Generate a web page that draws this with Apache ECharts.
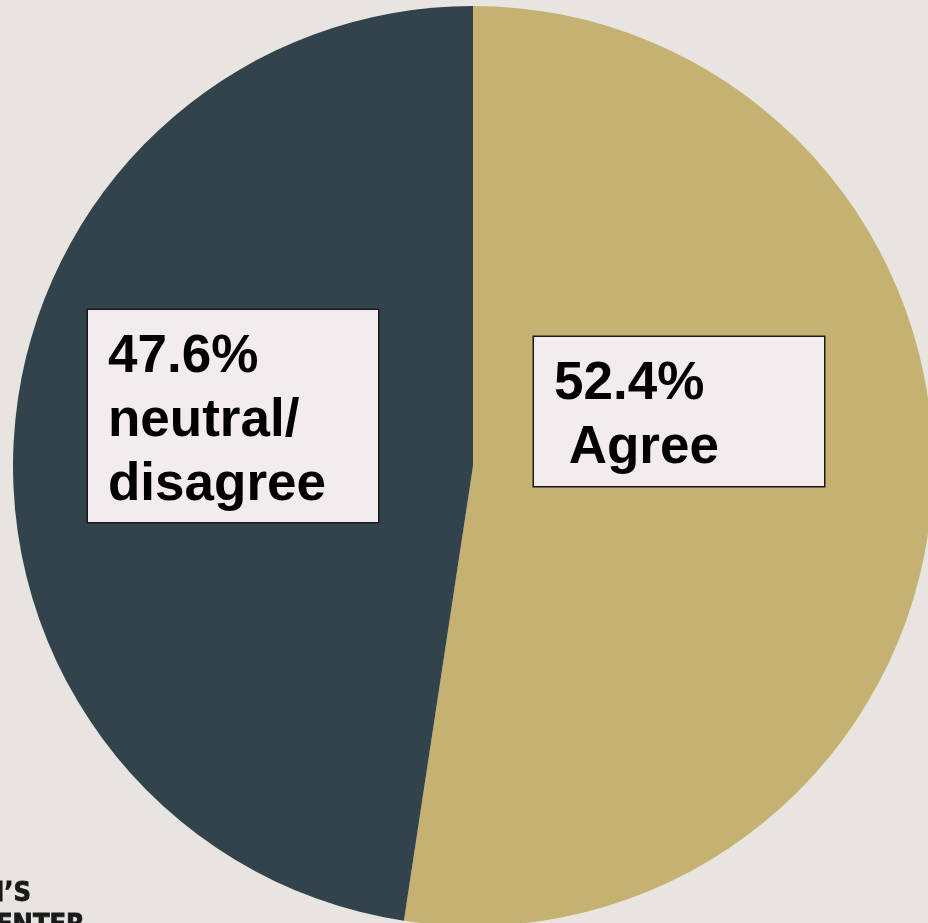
<!DOCTYPE html>
<html>
<head>
<meta charset="utf-8">
<style>
  html, body { margin: 0; padding: 0; background: #E8E5E0; }
  #chart { width: 928px; height: 923px; }
</style>
<script src="https://cdn.jsdelivr.net/npm/echarts@6/dist/echarts.min.js"></script>
</head>
<body>
<div id="chart"></div>
<script>
const categories = ['Agree', 'neutral/\ndisagree'];
const values = [52.4, 47.6];
const colors = ['#C5B273', '#33434C'];
const labelTemplates = ['{v}%\n {c}', '{v}%\n{c}'];

const chart = echarts.init(document.getElementById('chart'));

const labelBoxes = [
  { x: 534, y: 337, pb: 6 },
  { x: 88, y: 310, pb: 5 }
];

chart.setOption({
  backgroundColor: '#E8E5E0',
  animation: false,
  series: [{
    type: 'pie',
    center: [473, 466],
    radius: [0, 460],
    startAngle: 90,
    clockwise: true,
    silent: true,
    itemStyle: { borderWidth: 0 },
    data: categories.map((c, i) => ({
      name: c,
      value: values[i],
      itemStyle: { color: colors[i] },
      label: { padding: [15, 20, labelBoxes[i].pb, 20] }
    })),
    label: {
      show: true,
      position: 'inside',
      formatter: p => labelTemplates[p.dataIndex]
        .replace('{v}', values[p.dataIndex].toFixed(1))
        .replace('{c}', categories[p.dataIndex]),
      fontFamily: 'Liberation Sans, Arial, sans-serif',
      fontWeight: 'bold',
      fontSize: 53,
      lineHeight: 64,
      color: '#000000',
      backgroundColor: '#F3ECEF',
      borderColor: '#1a1a1a',
      borderWidth: 1.5,
      width: 250,
      align: 'left'
    },
    labelLine: { show: false },
    labelLayout: function (params) {
      const b = labelBoxes[params.dataIndex];
      return { x: b.x, y: b.y, align: 'left', verticalAlign: 'top' };
    }
  }],
  graphic: [
    {
      type: 'text',
      x: -16,
      y: 880,
      style: {
        text: 'N\u2019S',
        font: 'bold 27px "Liberation Sans Narrow", "DejaVu Sans Condensed", sans-serif',
        fill: '#1a1a1a',
        stroke: '#1a1a1a',
        lineWidth: 0.8
      }
    },
    {
      type: 'text',
      x: -4,
      y: 912,
      style: {
        text: 'ENTER',
        font: 'bold 27px "Liberation Sans Narrow", "DejaVu Sans Condensed", sans-serif',
        fill: '#1a1a1a',
        stroke: '#1a1a1a',
        lineWidth: 0.8
      }
    }
  ]
});
</script>
</body>
</html>
